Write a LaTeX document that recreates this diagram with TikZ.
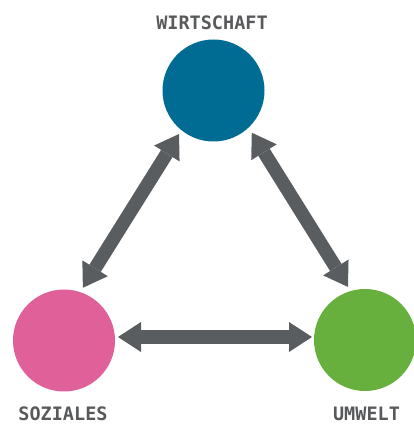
\documentclass[tikz,border=0pt]{standalone}
\usepackage{fontspec}
\setmonofont{DejaVu Sans Mono}
\usetikzlibrary{arrows.meta}

\definecolor{wirtblue}{HTML}{006B93}
\definecolor{sozpink}{HTML}{E0609A}
\definecolor{umwgreen}{HTML}{68B03E}
\definecolor{arrowgray}{HTML}{5A5D60}
\definecolor{labelgray}{HTML}{58595B}

\tikzset{
  pillar/.style={circle, minimum size=102pt, inner sep=0pt, draw=none, fill=#1},
  pillarlabel/.style={font=\ttfamily\bfseries\fontsize{18.5}{18.5}\selectfont, text=labelgray, inner sep=0pt, anchor=center},
  biarrow/.style={arrowgray, line width=13.5pt,
    arrows={Triangle[length=23pt,width=30pt,line width=0pt]-Triangle[length=23pt,width=30pt,line width=0pt]}}
}

\begin{document}
\begin{tikzpicture}[x=1pt,y=1pt]
  \useasboundingbox (0,0) rectangle (414,439);

  % the three pillars
  \node[pillar=wirtblue] (w) at (213.5,348.5) {};
  \node[pillar=sozpink]  (s) at (64,98.5) {};
  \node[pillar=umwgreen] (u) at (365,99) {};

  % labels
  \node[pillarlabel] (wl) at (212,416.5) {WIRTSCHAFT};
  \node[pillarlabel] (sl) at (63,25.5) {SOZIALES};
  \node[pillarlabel] (ul) at (366.5,25) {UMWELT};

  % two-way arrows between the pillars
  \draw[biarrow] ([shift={(70.3:56pt)}]s.center) -- ([shift={(231.6:55.5pt)}]w.center);
  \draw[biarrow] ([shift={(312.2:57pt)}]w.center) -- ([shift={(107.8:55.7pt)}]u.center);
  \draw[biarrow] ([shift={(54pt,3.5pt)}]s.center) -- ([shift={(-53pt,3pt)}]u.center);
\end{tikzpicture}
\end{document}
